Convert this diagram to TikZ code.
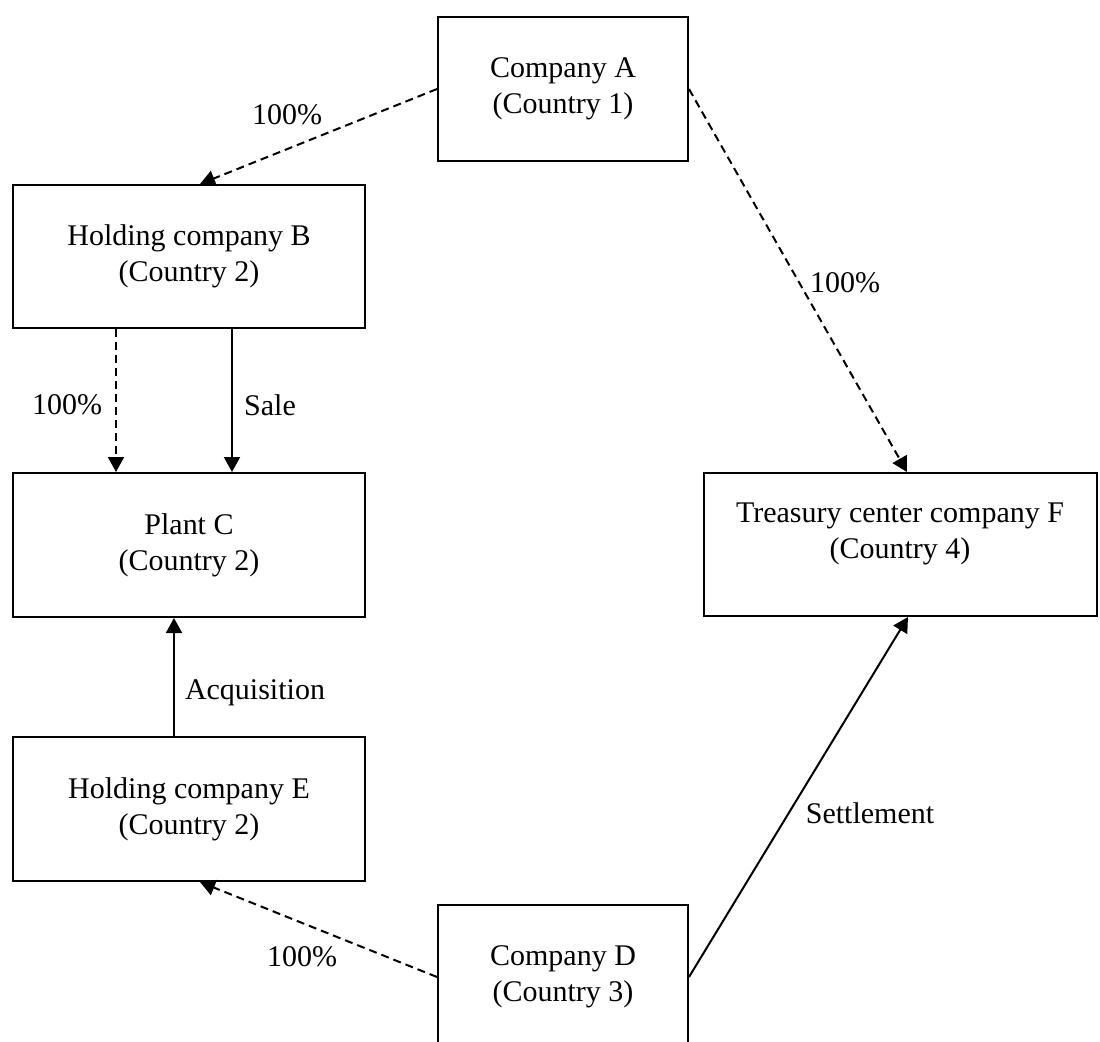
\documentclass[tikz,border=0pt]{standalone}
\usepackage{fontspec}
\setmainfont{Liberation Serif}
\usetikzlibrary{arrows.meta,calc}
\begin{document}
\begin{tikzpicture}[x=0.5pt,y=-0.5pt,
  box/.style={draw,line width=1pt,rectangle,inner sep=0pt,align=center,font=\fontsize{15}{18}\selectfont},
  lbl/.style={inner sep=0pt,font=\fontsize{15}{18}\selectfont},
  conn/.style={line width=1pt,-{Triangle[length=7.5pt,width=8pt]}},
  own/.style={conn,dash pattern=on 4pt off 2.5pt}]
\useasboundingbox (0,0) rectangle (1100,1041);
\clip (0,0) rectangle (1100,1041);
\node[box,minimum width=125pt,minimum height=72pt] (A) at (563,89) {Company A\\(Country 1)};
\node[box,minimum width=176pt,minimum height=71.5pt] (B) at (189,256.5) {Holding company B\\(Country 2)};
\node[box,minimum width=176pt,minimum height=72pt] (C) at (189,545) {Plant C\\(Country 2)};
\node[box,minimum width=176pt,minimum height=72pt] (E) at (189,809) {Holding company E\\(Country 2)};
\node[box,minimum width=196.5pt,minimum height=71.5pt,text depth=14pt] (F) at (900,544.5) {Treasury center company F\\(Country 4)};
\node[box,minimum width=125pt,minimum height=72pt] (D) at (563,977) {Company D\\(Country 3)};
% connectors
\draw[own] (A.west) -- ($(B.north)+(11,0)$);
\draw[own] (A.east) -- ($(F.north)+(7,0)$);
\draw[own] ($(B.south)+(-73,0)$) -- ($(C.north)+(-73,0)$);
\draw[conn] ($(B.south)+(43,0)$) -- ($(C.north)+(43,0)$);
\draw[conn] ($(E.north)+(-15,0)$) -- ($(C.south)+(-15,0)$);
\draw[own] (D.west) -- ($(E.south)+(11,0)$);
\draw[conn] (D.east) -- ($(F.south)+(8,0)$);
% labels
\node[lbl] (lAB) at (287,115) {100\%};
\node[lbl] (lAF) at (845,283) {100\%};
\node[lbl] (lBC) at (67,405) {100\%};
\node[lbl] (lSale) at (270,405) {Sale};
\node[lbl] (lAcq) at (255,693) {Acquisition};
\node[lbl] (lSet) at (870,813) {Settlement};
\node[lbl] (lDE) at (302,957) {100\%};
\end{tikzpicture}
\end{document}
